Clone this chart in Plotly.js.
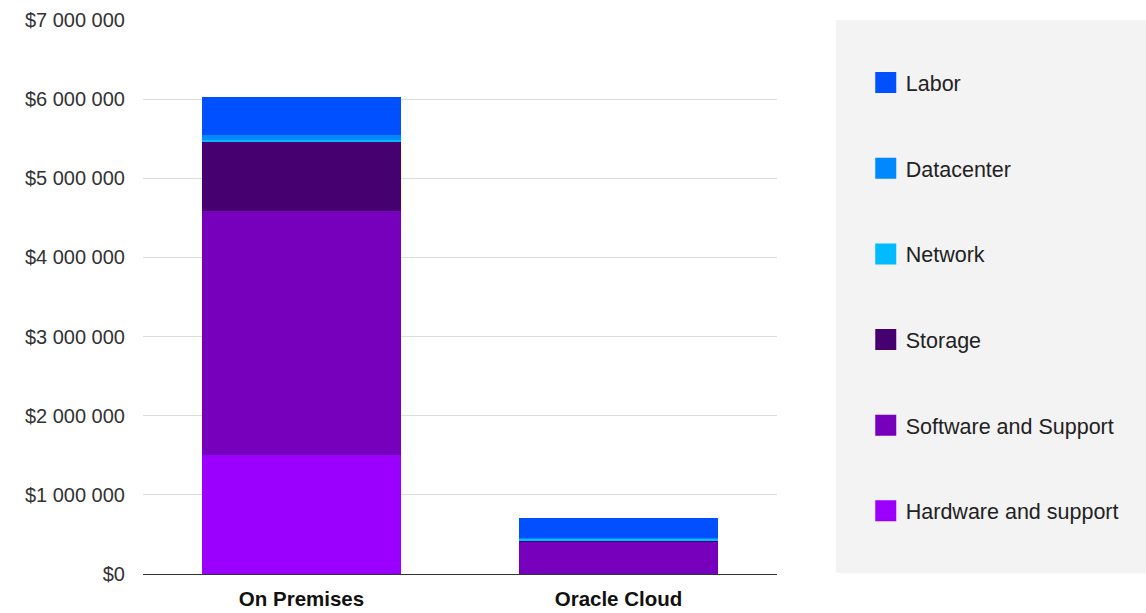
<!DOCTYPE html>
<html>
<head>
<meta charset="utf-8">
<script src="https://cdn.plot.ly/plotly-3.0.1.min.js"></script>
<style>html,body{margin:0;padding:0;background:#fff;}#chart{width:1146px;height:613px;}</style>
</head>
<body>
<div id="chart"></div>
<script>
const categories = ["On Premises", "Oracle Cloud"];
const seriesNames = ["Hardware and support", "Software and Support", "Storage", "Network", "Datacenter", "Labor"];
const hardware   = [1500000, 0];
const software   = [3085000, 405000];
const storage    = [872000, 12000];
const network    = [25000, 30000];
const datacenter = [65000, 5000];
const labor      = [476000, 250000];
const seriesValues = [hardware, software, storage, network, datacenter, labor];
const colors = ["#9b00ff", "#7600bb", "#470070", "#00bbff", "#0088ff", "#0050ff"];
const yTickVals = [0, 1000000, 2000000, 3000000, 4000000, 5000000, 6000000, 7000000];
const yTickText = ["$0", "$1 000 000", "$2 000 000", "$3 000 000", "$4 000 000", "$5 000 000", "$6 000 000", "$7 000 000"];

const FONT = "Liberation Sans, Arial, sans-serif";
const traces = [];
seriesNames.forEach((name, i) => {
  traces.push({
    type: "bar", x: categories, y: seriesValues[i], name: name,
    marker: {color: colors[i], line: {width: 0}},
    legendgroup: name, showlegend: false
  });
});
// legend-only entries (larger square symbols), Labor listed first
seriesNames.forEach((name, i) => {
  traces.push({
    type: "scatter", mode: "markers", x: [null], y: [null], name: name,
    marker: {symbol: "square", size: 16, color: colors[i], line: {color: colors[i], width: 5}},
    legendgroup: name, showlegend: true, hoverinfo: "skip",
    legendrank: seriesNames.length - i
  });
});

const layout = {
  width: 1146, height: 613,
  margin: {l: 143, r: 369, t: 20, b: 39},
  paper_bgcolor: "#ffffff", plot_bgcolor: "#ffffff",
  barmode: "stack", bargap: 0.375,
  font: {family: FONT, size: 20, color: "#333333"},
  showlegend: true,
  legend: {
    x: 1.140, xanchor: "left", y: 0.924, yanchor: "top",
    bgcolor: "rgba(0,0,0,0)", traceorder: "grouped",
    tracegroupgap: 54.7, font: {family: FONT, size: 21.5, color: "#222222"}, itemwidth: 30
  },
  xaxis: {
    type: "category", showgrid: false, showline: true, linecolor: "#333333", linewidth: 1,
    ticks: "", ticklabelstandoff: 6,
    tickfont: {size: 20.5, color: "#111111", family: FONT, weight: "bold"},
    fixedrange: true
  },
  yaxis: {
    range: [0, 7000000], tickvals: yTickVals, ticktext: yTickText,
    showgrid: true, gridcolor: "#dddddd", gridwidth: 1, zeroline: false,
    ticks: "", ticklabelstandoff: 17, tickfont: {size: 20, color: "#333333", family: FONT}, fixedrange: true
  },
  shapes: [{
    type: "rect", xref: "paper", yref: "paper", layer: "below",
    x0: (836 - 143) / 634, x1: 1.6, y0: 0.002, y1: 1.0,
    fillcolor: "#f3f3f3", line: {width: 0}
  }]
};

Plotly.newPlot("chart", traces, layout, {displayModeBar: false, staticPlot: true});
</script>
</body>
</html>
